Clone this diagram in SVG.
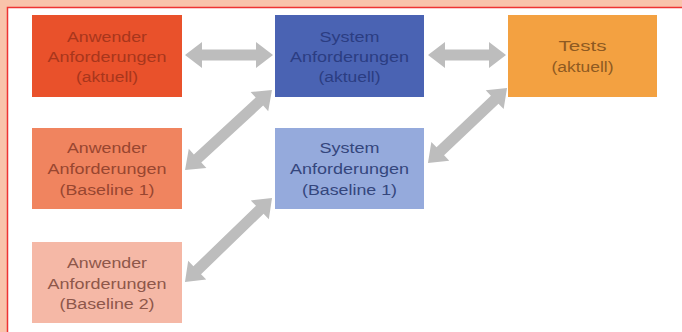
<svg xmlns="http://www.w3.org/2000/svg" width="682" height="332" viewBox="0 0 682 332">
<style>
text{font-family:"Liberation Sans",Arial,sans-serif;font-size:14px;text-anchor:middle}
.arrow{fill:#BDBDBD}
</style>
<rect x="0" y="0" width="682" height="332" fill="#F9C3AB"/>
<rect x="7.5" y="7.5" width="690" height="340" fill="#FFFFFF" stroke="#EE3333" stroke-width="1.5"/>
<g id="connectors">
<path class="arrow" transform="translate(229,55)" d="M-44,0 L-27,-13 L-27,-5.5 L27,-5.5 L27,-13 L44,0 L27,13 L27,5.5 L-27,5.5 L-27,13 Z"/>
<path class="arrow" transform="translate(467,55)" d="M-39,0 L-22,-13 L-22,-5.5 L22,-5.5 L22,-13 L39,0 L22,13 L22,5.5 L-22,5.5 L-22,13 Z"/>
<path class="arrow" transform="translate(228.5,130) rotate(-42.6)" d="M-59,0 L-42,-13 L-42,-5.5 L42,-5.5 L42,-13 L59,0 L42,13 L42,5.5 L-42,5.5 L-42,13 Z"/>
<path class="arrow" transform="translate(467.5,125.5) rotate(-43.5)" d="M-54.5,0 L-37.5,-13 L-37.5,-5.5 L37.5,-5.5 L37.5,-13 L54.5,0 L37.5,13 L37.5,5.5 L-37.5,5.5 L-37.5,13 Z"/>
<path class="arrow" transform="translate(228.5,240) rotate(-44)" d="M-60.5,0 L-43.5,-13 L-43.5,-5.5 L43.5,-5.5 L43.5,-13 L60.5,0 L43.5,13 L43.5,5.5 L-43.5,5.5 L-43.5,13 Z"/>
</g>
<g id="anwender-aktuell">
<rect x="32" y="15" width="150" height="82" fill="#E9512B"/>
<g fill="#A8361C">
<text x="107" y="42" textLength="80" lengthAdjust="spacingAndGlyphs">Anwender</text>
<text x="107" y="62" textLength="119" lengthAdjust="spacingAndGlyphs">Anforderungen</text>
<text x="107" y="82" textLength="62" lengthAdjust="spacingAndGlyphs">(aktuell)</text>
</g>
</g>
<g id="system-aktuell">
<rect x="275" y="15" width="149" height="82" fill="#4A63B3"/>
<g fill="#2B3D82">
<text x="349.5" y="42" textLength="60" lengthAdjust="spacingAndGlyphs">System</text>
<text x="349.5" y="62" textLength="119" lengthAdjust="spacingAndGlyphs">Anforderungen</text>
<text x="349.5" y="82" textLength="62" lengthAdjust="spacingAndGlyphs">(aktuell)</text>
</g>
</g>
<g id="tests-aktuell">
<rect x="508" y="15" width="149" height="82" fill="#F3A141"/>
<g fill="#8E5A22">
<text x="582.5" y="51" textLength="48" lengthAdjust="spacingAndGlyphs">Tests</text>
<text x="582.5" y="72" textLength="62" lengthAdjust="spacingAndGlyphs">(aktuell)</text>
</g>
</g>
<g id="anwender-baseline1">
<rect x="32" y="128" width="150" height="81" fill="#F0845F"/>
<g fill="#984630">
<text x="107" y="153" textLength="80" lengthAdjust="spacingAndGlyphs">Anwender</text>
<text x="107" y="174" textLength="119" lengthAdjust="spacingAndGlyphs">Anforderungen</text>
<text x="107" y="195" textLength="95" lengthAdjust="spacingAndGlyphs">(Baseline 1)</text>
</g>
</g>
<g id="system-baseline1">
<rect x="275" y="128" width="149" height="81" fill="#95AADC"/>
<g fill="#34467C">
<text x="349.5" y="153" textLength="60" lengthAdjust="spacingAndGlyphs">System</text>
<text x="349.5" y="174" textLength="119" lengthAdjust="spacingAndGlyphs">Anforderungen</text>
<text x="349.5" y="195" textLength="95" lengthAdjust="spacingAndGlyphs">(Baseline 1)</text>
</g>
</g>
<g id="anwender-baseline2">
<rect x="32" y="242" width="150" height="81" fill="#F5B8A6"/>
<g fill="#8E574A">
<text x="107" y="268" textLength="80" lengthAdjust="spacingAndGlyphs">Anwender</text>
<text x="107" y="289" textLength="119" lengthAdjust="spacingAndGlyphs">Anforderungen</text>
<text x="107" y="309" textLength="95" lengthAdjust="spacingAndGlyphs">(Baseline 2)</text>
</g>
</g>
</svg>
